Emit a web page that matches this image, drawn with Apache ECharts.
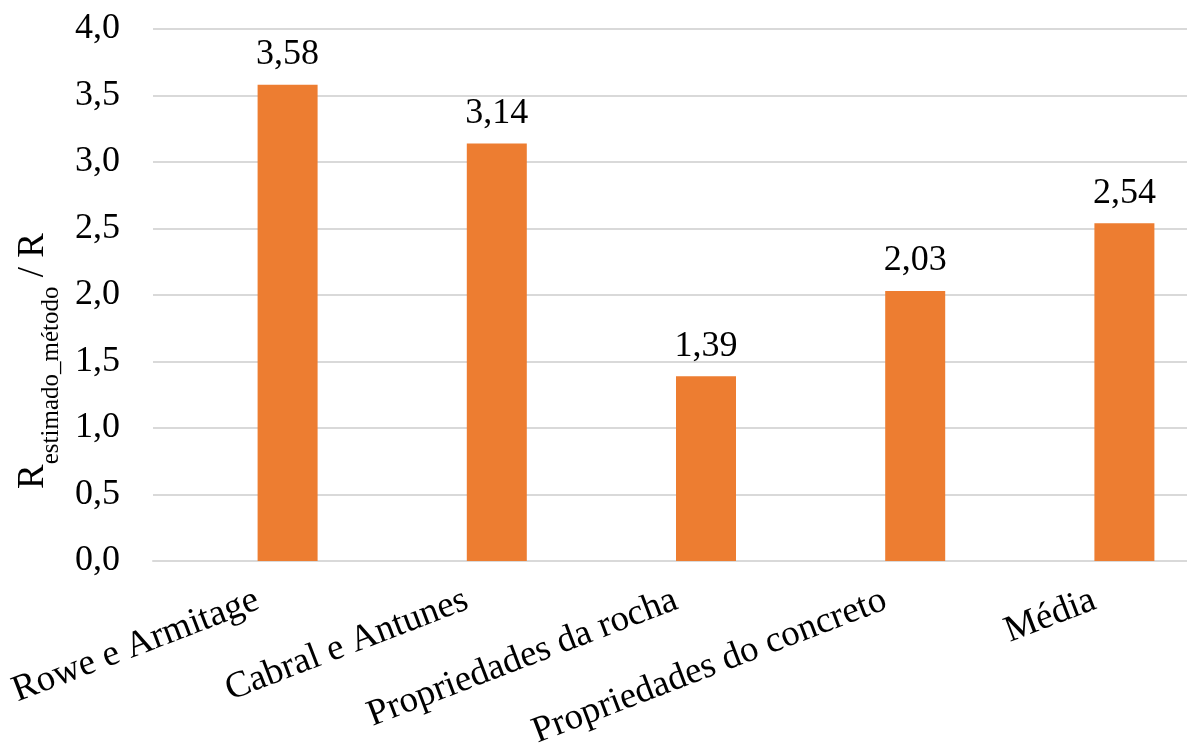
<!DOCTYPE html>
<html>
<head>
<meta charset="utf-8">
<script src="https://cdn.jsdelivr.net/npm/echarts@6/dist/echarts.min.js"></script>
<style>html,body{margin:0;padding:0;background:#fff;}#c{width:1187px;height:749px;}</style>
</head>
<body>
<div id="c"></div>
<script>
const categories = ['Rowe e Armitage', 'Cabral e Antunes', 'Propriedades da rocha', 'Propriedades do concreto', 'Média'];
const ratioValues = [3.58, 3.14, 1.39, 2.03, 2.54];
const emptySlot = ['-', '-', '-', '-', '-'];
const yTicks = { min: 0, max: 4, interval: 0.5 };

const FONT = "'Liberation Serif', 'Times New Roman', serif";
const FS = 36;
const chart = echarts.init(document.getElementById('c'), null, { renderer: 'canvas' });
const fmt = v => v.toFixed(1).replace('.', ',');
chart.setOption({
  backgroundColor: '#fff',
  animation: false,
  grid: { left: 153, width: 1046, top: 29, bottom: 188, containLabel: false, outerBoundsMode: 'none' },
  xAxis: {
    type: 'category',
    data: categories,
    axisLine: { show: true, lineStyle: { color: '#d9d9d9', width: 2 } },
    axisTick: { show: false },
    axisLabel: { rotate: 21, margin: 38, interval: 0, fontFamily: FONT, fontSize: 37, color: '#000' }
  },
  yAxis: {
    type: 'value',
    min: yTicks.min, max: yTicks.max, interval: yTicks.interval,
    axisLine: { show: false },
    axisTick: { show: false },
    splitLine: { lineStyle: { color: '#d9d9d9', width: 2 } },
    axisLabel: { formatter: fmt, fontFamily: FONT, fontSize: FS, color: '#000', margin: 33 },
    name: '{m|R}{s|estimado_método}{m| / R}',
    nameLocation: 'middle',
    nameRotate: 90,
    nameGap: 96,
    nameTextStyle: {
      fontFamily: FONT, color: '#000',
      padding: [0, 132, 0, 0],
      rich: {
        m: { fontFamily: FONT, fontSize: 37, color: '#000', lineHeight: 42, verticalAlign: 'bottom' },
        s: { fontFamily: FONT, fontSize: 25, color: '#000', lineHeight: 42, verticalAlign: 'bottom', padding: [0, 0, -12, 0] }
      }
    }
  },
  series: [
    { type: 'bar', data: emptySlot, barWidth: 60, barGap: '0%', silent: true },
    {
      type: 'bar', data: ratioValues, barWidth: 60, barGap: '0%',
      itemStyle: { color: '#ED7D31' },
      label: {
        show: true, position: 'top', distance: 12,
        fontFamily: FONT, fontSize: FS, color: '#000',
        formatter: p => p.value.toFixed(2).replace('.', ',')
      }
    }
  ]
});
</script>
</body>
</html>
